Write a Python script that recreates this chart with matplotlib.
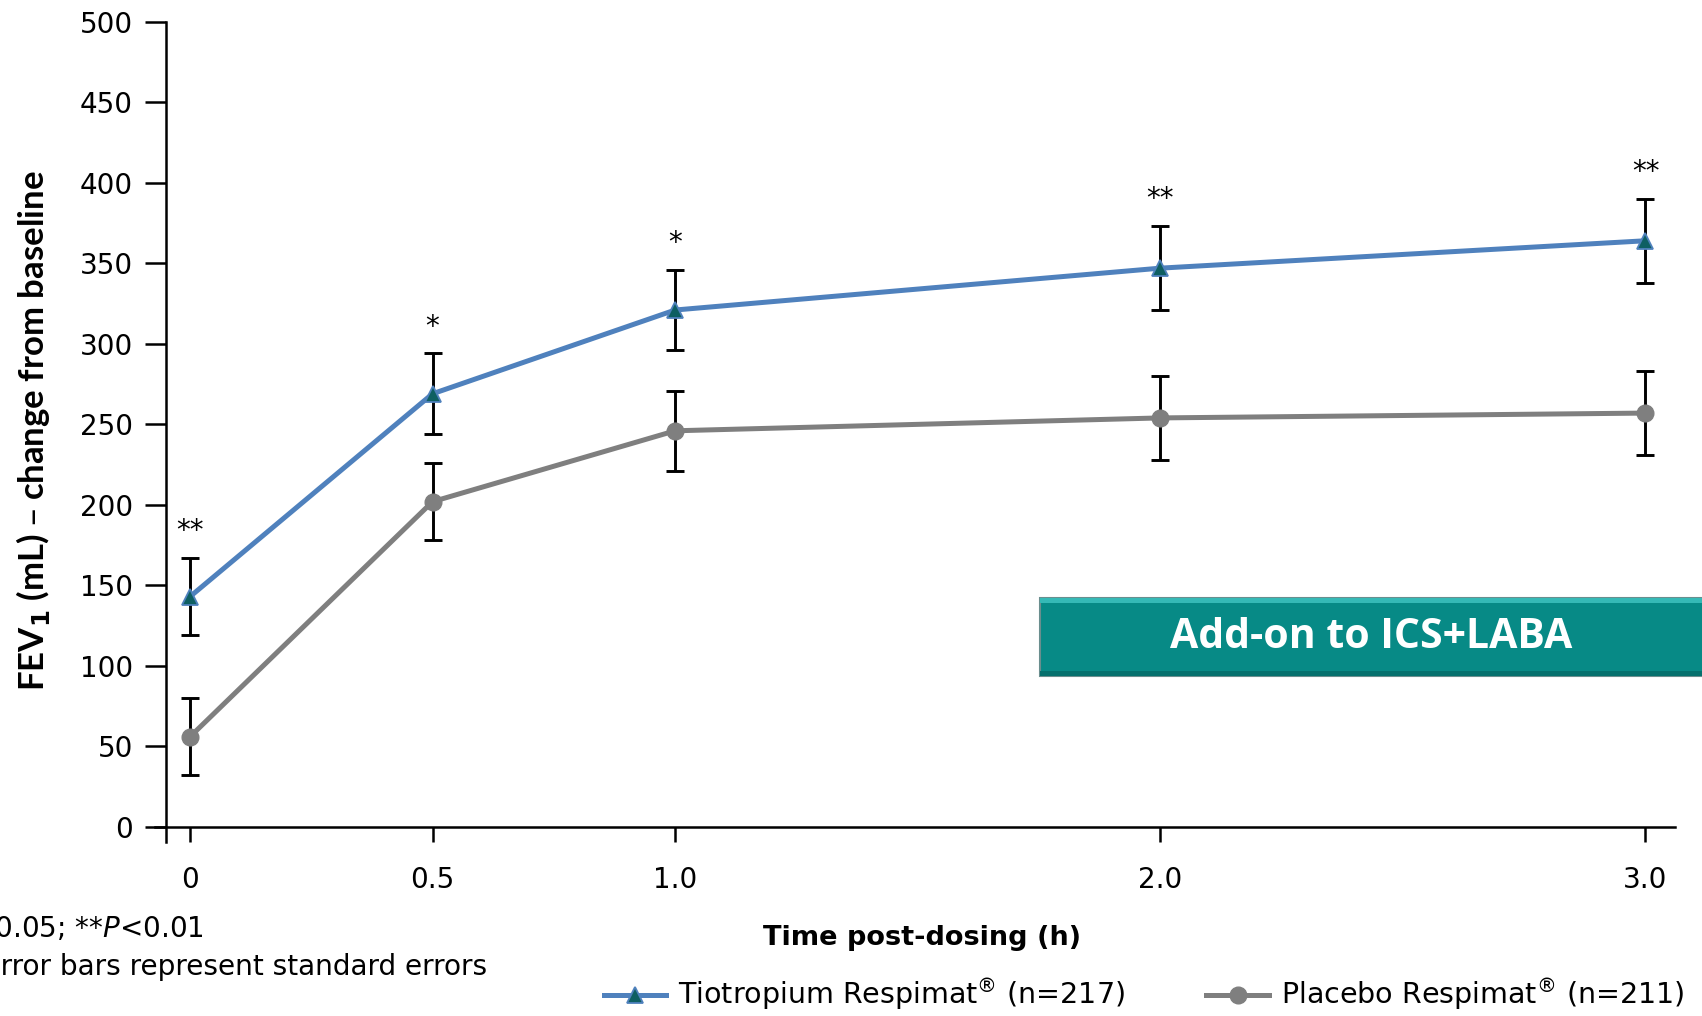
import matplotlib.pyplot as plt
from matplotlib.patches import Rectangle

# ---- data -------------------------------------------------------------
hours = [0, 0.5, 1.0, 2.0, 3.0]
hour_labels = ["0", "0.5", "1.0", "2.0", "3.0"]

tio_mean = [143, 269, 321, 347, 364]
tio_se = [24, 25, 25, 26, 26]
pbo_mean = [56, 202, 246, 254, 257]
pbo_se = [24, 24, 25, 26, 26]
stars = ["**", "*", "*", "**", "**"]

y_ticks = [0, 50, 100, 150, 200, 250, 300, 350, 400, 450, 500]

BLUE = "#4F81BD"
GREY = "#7F7F7F"
TEAL = "#078A86"

plt.rcParams["font.family"] = ["DejaVu Sans"]
plt.rcParams["mathtext.fontset"] = "dejavusans"

fig = plt.figure(figsize=(17.02, 10.16), dpi=100)
ax = fig.add_axes([0.0911, 0.171, 0.8928, 0.8076])

# error bars under the lines
ebar = dict(fmt="none", ecolor="black", elinewidth=2.1, capsize=6.5,
            capthick=2.1, zorder=2)
ax.errorbar(hours, tio_mean, yerr=tio_se, **ebar)
ax.errorbar(hours, pbo_mean, yerr=pbo_se, **ebar)

l1, = ax.plot(hours, tio_mean, color=BLUE, lw=3.6, marker="^", ms=12,
              mfc="#0E5F62", mec=BLUE, mew=1.3, zorder=4,
              label="Tiotropium Respimat$^{\u00ae}$ (n=217)")
l2, = ax.plot(hours, pbo_mean, color=GREY, lw=3.6, marker="o", ms=12,
              mfc=GREY, mec=GREY, zorder=3,
              label="Placebo Respimat$^{\u00ae}$ (n=211)")

# significance markers above the tiotropium error bars
for x, m, e, s in zip(hours, tio_mean, tio_se, stars):
    ax.text(x, m + e + 8, s, ha="center", va="bottom", fontsize=20)

# axes styling: spines cross at the origin corner
ax.set_xlim(-0.072, 3.06)
ax.set_ylim(-9.5, 500)
for side in ["top", "right"]:
    ax.spines[side].set_visible(False)
ax.spines["bottom"].set_position(("data", 0))
ax.spines["bottom"].set_bounds(-0.072, 3.06)
ax.spines["left"].set_position(("data", -0.049))
ax.spines["left"].set_bounds(-9.5, 500)
for side in ["bottom", "left"]:
    ax.spines[side].set_linewidth(1.8)

ax.set_xticks(hours)
ax.set_xticklabels(hour_labels)
ax.set_yticks(y_ticks)
ax.tick_params(axis="x", direction="out", length=11, width=1.8,
               labelsize=20, pad=17)
ax.tick_params(axis="y", direction="out", length=15, width=1.8,
               labelsize=20, pad=9)

fig.text(0.0192, 0.5757, "FEV$_\\mathbf{1}$ (mL) \u2013 change from baseline",
         rotation=90, ha="center", va="center", fontsize=25,
         fontweight="bold", family="Lato")
fig.text(0.542, 0.0768, "Time post-dosing (h)", ha="center", va="center",
         fontsize=19.5, fontweight="bold")

# footnotes, right-aligned so the start runs off the page edge
fig.text(0.1199, 0.0856, r"*$P$<0.05; **$P$<0.01", ha="right", va="center",
         fontsize=20)
fig.text(0.2863, 0.048, "Error bars represent standard errors", ha="right",
         va="center", fontsize=20.2)

# teal banner with a light top edge and a darker bottom edge
bx, by, bw, bh = 0.611, 0.3346, 0.40, 0.0768
fig.patches.append(Rectangle((bx, by), bw, bh, transform=fig.transFigure,
                             facecolor=TEAL, edgecolor="#6A8E8E", lw=1.5))
fig.patches.append(Rectangle((bx, by + bh - 0.005), bw, 0.005,
                             transform=fig.transFigure, facecolor="#35B9B6",
                             edgecolor="none"))
fig.patches.append(Rectangle((bx, by), bw, 0.005, transform=fig.transFigure,
                             facecolor="#05706D", edgecolor="none"))
fig.text(0.8055, 0.373, "Add-on to ICS+LABA", ha="center", va="center",
         fontsize=29.5, fontweight="bold", color="white", family="Open Sans")

fig.legend(handles=[l1, l2], loc="center left", bbox_to_anchor=(0.3546, 0.0207),
           ncol=2, frameon=False, fontsize=20.5, handlelength=2.2,
           handletextpad=0.42, columnspacing=2.85, borderpad=0, borderaxespad=0)

fig.savefig("out.png", dpi=100)
